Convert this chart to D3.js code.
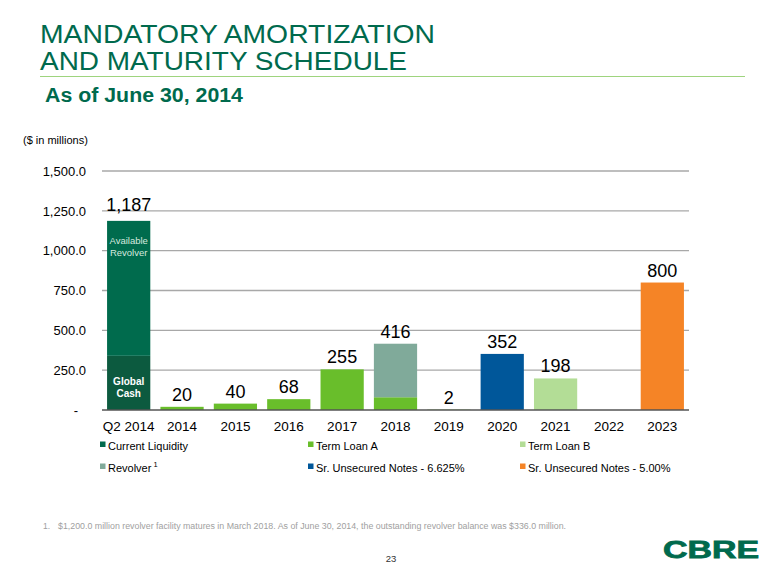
<!DOCTYPE html>
<html>
<head>
<meta charset="utf-8">
<script src="https://cdn.jsdelivr.net/npm/d3@7"></script>
<style>
  html, body { margin: 0; padding: 0; background: #fff; }
  svg { display: block; font-family: "Liberation Sans", Arial, sans-serif; }
</style>
</head>
<body>
<svg id="chart" width="780" height="585"></svg>
<script>
// ---------------- DATA ----------------
const categories = ["Q2 2014", "2014", "2015", "2016", "2017", "2018", "2019", "2020", "2021", "2022", "2023"];
const globalCash        = [340, 0, 0, 0, 0, 0, 0, 0, 0, 0, 0];
const availableRevolver = [847, 0, 0, 0, 0, 0, 0, 0, 0, 0, 0];
const termLoanA         = [0, 20, 40, 68, 255, 80, 2, 0, 0, 0, 0];
const revolver          = [0, 0, 0, 0, 0, 336, 0, 0, 0, 0, 0];
const notes6625         = [0, 0, 0, 0, 0, 0, 0, 352, 0, 0, 0];
const termLoanB         = [0, 0, 0, 0, 0, 0, 0, 0, 198, 0, 0];
const notes500          = [0, 0, 0, 0, 0, 0, 0, 0, 0, 0, 800];
const yTicks = [0, 250, 500, 750, 1000, 1250, 1500];
const yTickLabels = ["-", "250.0", "500.0", "750.0", "1,000.0", "1,250.0", "1,500.0"];
const legendLabels = ["Current Liquidity", "Term Loan A", "Term Loan B", "Revolver", "Sr. Unsecured Notes - 6.625%", "Sr. Unsecured Notes - 5.00%"];

// -------------- SETUP --------------
const seriesKeys = ["globalCash", "availableRevolver", "termLoanA", "revolver", "notes6625", "termLoanB", "notes500"];
const seriesData = { globalCash, availableRevolver, termLoanA, revolver, notes6625, termLoanB, notes500 };
const colors = {
  globalCash: "#0c5a3f",
  availableRevolver: "#006b4d",
  termLoanA: "#69be2b",
  revolver: "#80aa9a",
  notes6625: "#00579a",
  termLoanB: "#b3dd96",
  notes500: "#f58426"
};
const legendColors = ["#006b4d", "#69be2b", "#b3dd96", "#80aa9a", "#00579a", "#f58426"];

const table = categories.map((c, i) => {
  const row = { cat: c };
  seriesKeys.forEach(k => row[k] = seriesData[k][i]);
  return row;
});
const totals = table.map(r => seriesKeys.reduce((s, k) => s + r[k], 0));

const svg = d3.select("#chart");
const green = "#006a4d";

// Title
svg.append("text").attr("x", 40).attr("y", 43).attr("fill", green)
  .attr("font-size", 26).attr("textLength", 395).attr("lengthAdjust", "spacingAndGlyphs")
  .text("MANDATORY AMORTIZATION");
svg.append("text").attr("x", 40).attr("y", 70).attr("fill", green)
  .attr("font-size", 26).attr("textLength", 367).attr("lengthAdjust", "spacingAndGlyphs")
  .text("AND MATURITY SCHEDULE");
svg.append("line").attr("x1", 40).attr("x2", 745).attr("y1", 76.5).attr("y2", 76.5)
  .attr("stroke", "#9ed47e").attr("stroke-width", 1.2);
svg.append("text").attr("x", 45).attr("y", 102).attr("fill", green)
  .attr("font-size", 20).attr("font-weight", "bold")
  .attr("textLength", 198).attr("lengthAdjust", "spacingAndGlyphs")
  .text("As of June 30, 2014");

svg.append("text").attr("x", 23).attr("y", 144).attr("fill", "#000")
  .attr("font-size", 11).text("($ in millions)");

// Scales
const x = d3.scaleBand().domain(categories).range([102, 689]).paddingInner(0.19).paddingOuter(0.095);
const y = d3.scaleLinear().domain([0, 1500]).range([410, 171]);

// Gridlines
svg.append("g").selectAll("line").data(yTicks.filter(d => d > 0)).join("line")
  .attr("x1", 102).attr("x2", 689)
  .attr("y1", d => y(d)).attr("y2", d => y(d))
  .attr("stroke", "#a8a8a8").attr("stroke-width", 1.3);

// Y axis labels
const yAxis = d3.axisLeft(y).tickValues(yTicks).tickSize(0).tickPadding(0)
  .tickFormat((d, i) => yTickLabels[i]);
const gy = svg.append("g").attr("transform", "translate(86,0)").call(yAxis);
gy.select(".domain").remove();
gy.selectAll("text").attr("font-size", 13).attr("fill", "#000")
  .attr("font-family", "'Liberation Sans', Arial, sans-serif");
gy.selectAll(".tick").filter(d => d === 0).select("text").attr("dx", -8);

// Bars
const stack = d3.stack().keys(seriesKeys);
const stacked = stack(table);
svg.append("g").selectAll("g").data(stacked).join("g")
  .attr("fill", d => colors[d.key])
  .selectAll("rect").data(d => d.map((v, i) => ({ v, i }))).join("rect")
  .filter(d => d.v[1] - d.v[0] > 0)
  .attr("x", d => x(categories[d.i]))
  .attr("width", x.bandwidth())
  .attr("y", d => y(d.v[1]))
  .attr("height", d => y(d.v[0]) - y(d.v[1]));

// Baseline
svg.append("line").attr("x1", 102).attr("x2", 689).attr("y1", y(0)).attr("y2", y(0))
  .attr("stroke", "#555").attr("stroke-width", 1.5);

// X axis
const xAxis = d3.axisBottom(x).tickSize(0).tickPadding(0);
const gx = svg.append("g").attr("transform", "translate(0,421)").call(xAxis);
gx.select(".domain").remove();
gx.selectAll("text").attr("font-size", 13.5).attr("fill", "#000")
  .attr("font-family", "'Liberation Sans', Arial, sans-serif");

// Value labels
svg.append("g").selectAll("text").data(categories.map((c, i) => ({ c, t: totals[i] })).filter(d => d.t > 0))
  .join("text")
  .attr("x", d => x(d.c) + x.bandwidth() / 2)
  .attr("y", d => y(d.t) - (d.c === "Q2 2014" ? 10 : 6))
  .attr("text-anchor", "middle").attr("font-size", 18).attr("fill", "#000")
  .text(d => d3.format(",")(d.t));

// Inner labels
const q2x = x("Q2 2014") + x.bandwidth() / 2;
svg.append("text").attr("x", q2x).attr("y", 244).attr("text-anchor", "middle")
  .attr("font-size", 9.5).attr("fill", "#d5e8df").text("Available");
svg.append("text").attr("x", q2x).attr("y", 256).attr("text-anchor", "middle")
  .attr("font-size", 9.5).attr("fill", "#d5e8df").text("Revolver");
svg.append("text").attr("x", q2x).attr("y", 385).attr("text-anchor", "middle")
  .attr("font-size", 10).attr("font-weight", "bold").attr("fill", "#fff").text("Global");
svg.append("text").attr("x", q2x).attr("y", 397).attr("text-anchor", "middle")
  .attr("font-size", 10).attr("font-weight", "bold").attr("fill", "#fff").text("Cash");

// Legend
const legX = [100, 308, 520];
const legY = [446, 468];
const leg = svg.append("g").selectAll("g").data(legendLabels).join("g")
  .attr("transform", (d, i) => `translate(${legX[i % 3]},${legY[Math.floor(i / 3)]})`);
leg.append("rect").attr("x", 0).attr("y", -4.5).attr("width", 5.5).attr("height", 5.5)
  .attr("fill", (d, i) => legendColors[i]);
const legText = leg.append("text").attr("x", 8).attr("y", 4).attr("font-size", 11).attr("fill", "#000");
legText.append("tspan").text(d => d);
legText.filter(d => d === "Revolver").append("tspan")
  .attr("dx", 2).attr("dy", -5).attr("font-size", 7.5).text("1");

// Footnote
svg.append("text").attr("x", 43).attr("y", 529).attr("font-size", 8.5).attr("fill", "#a0a0a0")
  .text("1.");
svg.append("text").attr("x", 58).attr("y", 529).attr("font-size", 8.5).attr("fill", "#a0a0a0")
  .attr("textLength", 508).attr("lengthAdjust", "spacingAndGlyphs")
  .text("$1,200.0 million revolver facility matures in March 2018.  As of June 30, 2014, the outstanding revolver balance was $336.0 million.");

// Page number
svg.append("text").attr("x", 391).attr("y", 562).attr("text-anchor", "middle")
  .attr("font-size", 9.5).attr("fill", "#333").text("23");

// Logo
svg.append("text").attr("x", 663).attr("y", 558).attr("font-size", 24).attr("font-weight", "bold")
  .attr("fill", green).attr("stroke", green).attr("stroke-width", 0.8)
  .attr("textLength", 96).attr("lengthAdjust", "spacingAndGlyphs").text("CBRE");
</script>
</body>
</html>
